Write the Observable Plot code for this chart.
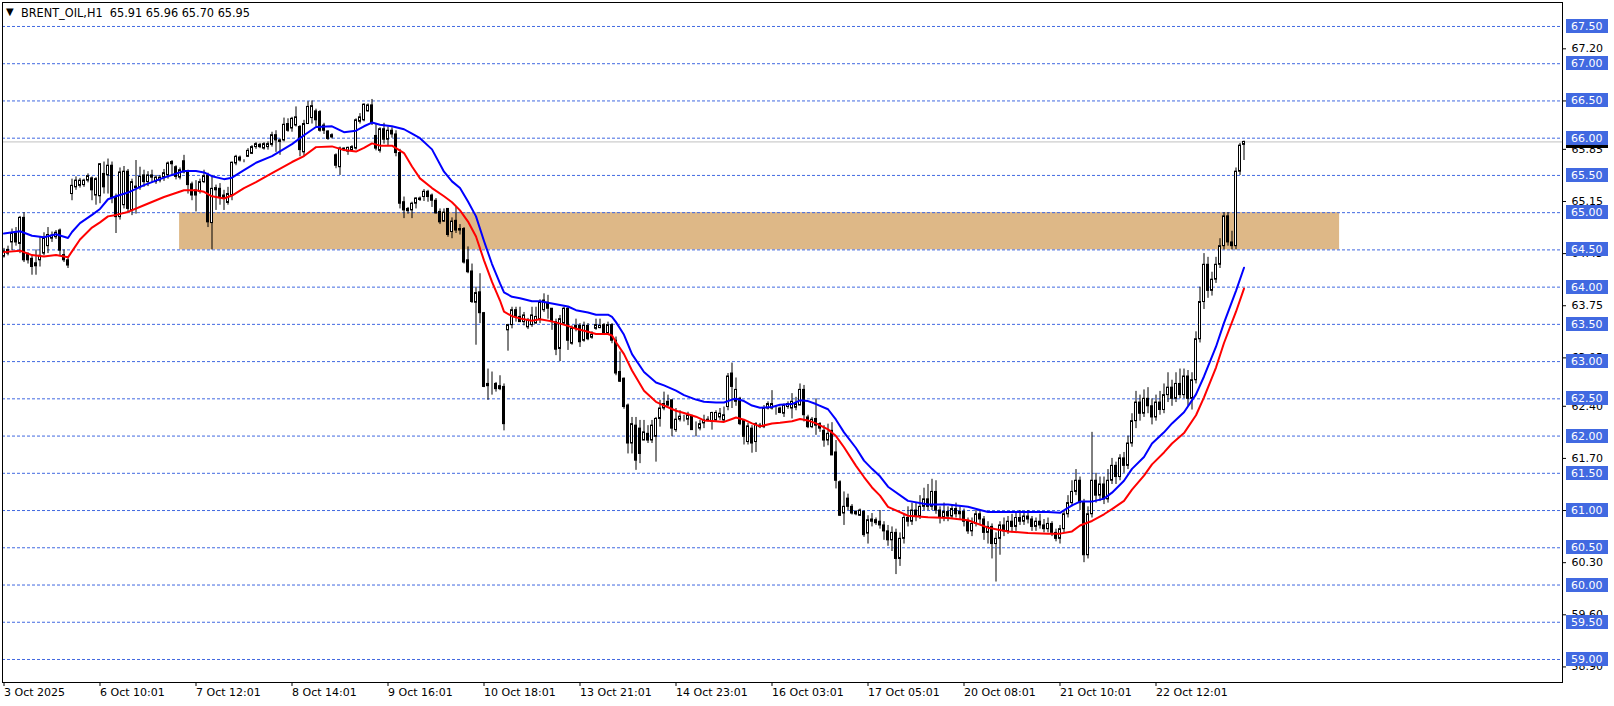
<!DOCTYPE html>
<html><head><meta charset="utf-8">
<script src="https://cdn.jsdelivr.net/npm/d3@7"></script>
<script src="https://cdn.jsdelivr.net/npm/@observablehq/plot@0.6"></script>
<style>html,body{margin:0;padding:0;background:#fff}svg{display:block}</style>
</head><body><div id="chart"></div>
<script>
const symbol = "BRENT_OIL,H1";
const open = [
64.41,64.50,64.60,64.72,64.58,64.93,64.43,64.38,64.32,64.36,
64.45,64.55,64.65,64.67,64.76,64.43,64.36,65.25,65.34,65.36,
65.37,65.43,65.46,65.23,65.22,65.52,65.50,65.63,65.20,64.94,
65.10,65.55,65.03,65.35,65.34,65.50,65.41,65.50,65.41,65.43,
65.47,65.50,65.68,65.61,65.47,65.69,65.54,65.38,65.30,65.28,
65.41,65.50,64.86,65.30,65.32,65.23,65.13,65.23,65.66,65.74,
65.69,65.75,65.79,65.88,65.91,65.86,65.88,65.91,66.04,65.97,
65.97,66.19,66.13,66.17,66.15,65.81,66.19,66.27,66.36,66.35,
66.17,66.09,66.04,65.77,65.61,65.86,65.82,65.84,65.86,66.22,
66.24,66.36,66.44,66.03,65.83,66.12,65.98,66.10,66.05,65.80,
65.14,65.05,65.03,65.12,65.19,65.21,65.28,65.23,65.16,65.01,
64.88,65.05,64.74,64.89,64.78,64.78,64.36,64.21,63.79,63.93,
63.65,62.70,62.70,62.70,62.67,62.66,63.42,63.49,63.69,63.60,
63.53,63.46,63.49,63.51,63.57,63.69,63.79,63.71,63.53,63.17,
63.51,63.71,63.24,63.48,63.48,63.28,63.48,63.32,63.44,63.45,
63.49,63.38,63.49,63.28,62.86,62.77,62.41,61.90,62.14,62.10,
61.94,62.03,61.94,61.99,62.23,62.37,62.46,62.48,62.08,62.22,
62.24,62.22,62.26,62.11,62.10,62.17,62.22,62.19,62.21,62.25,
62.21,62.39,62.84,62.46,62.50,62.21,61.92,62.10,61.92,62.14,
62.12,62.37,62.37,62.39,62.37,62.30,62.39,62.37,62.38,62.41,
62.62,62.25,62.12,62.23,62.16,62.07,61.94,62.07,61.78,61.38,
60.96,61.16,61.05,60.98,60.93,60.98,60.69,60.88,60.87,60.85,
60.80,60.72,60.60,60.70,60.35,60.62,60.90,60.85,61.00,60.92,
61.05,61.15,61.05,61.25,61.00,60.90,60.98,60.92,61.02,60.95,
60.98,60.85,60.72,60.82,60.95,60.88,60.70,60.78,60.55,60.62,
60.80,60.72,60.85,60.78,60.90,60.85,60.92,60.88,60.78,60.85,
60.80,60.75,60.82,60.70,60.62,60.75,60.95,61.10,61.25,61.40,
61.10,60.40,60.95,61.40,61.20,61.35,61.15,61.40,61.60,61.45,
61.70,61.60,61.90,62.20,62.45,62.30,62.50,62.40,62.25,62.45,
62.35,62.55,62.65,62.50,62.70,62.55,62.80,62.50,62.75,63.30,
63.80,64.30,63.95,64.10,64.30,64.55,64.95,64.60,64.55,65.55,
65.91];
const high = [
64.52,64.55,64.78,64.80,64.95,65.00,64.46,64.42,64.50,64.67,
64.73,64.80,64.74,64.76,64.78,64.50,64.40,65.45,65.48,65.46,
65.45,65.52,65.48,65.47,65.66,65.68,65.72,65.68,65.25,65.60,
65.62,65.58,65.45,65.70,65.61,65.57,65.55,65.57,65.50,65.50,
65.58,65.68,65.70,65.63,65.60,65.77,65.57,65.41,65.43,65.45,
65.57,65.53,65.50,65.37,65.39,65.30,65.34,65.68,65.77,65.76,
65.71,65.86,65.90,65.94,65.93,65.94,65.95,66.08,66.10,65.99,
66.27,66.26,66.28,66.42,66.17,66.24,66.49,66.50,66.39,66.37,
66.20,66.10,66.06,65.79,65.88,65.87,65.88,65.90,66.26,66.33,
66.46,66.46,66.52,66.19,66.14,66.20,66.15,66.14,66.10,65.85,
65.21,65.07,65.14,65.20,65.21,65.31,65.30,65.25,65.19,65.05,
65.05,65.05,64.93,65.07,64.84,64.80,64.54,64.31,64.00,64.18,
63.66,62.90,62.86,62.72,62.81,62.70,63.50,63.73,63.73,63.73,
63.66,63.58,63.73,63.73,63.83,63.91,63.89,63.71,63.57,63.62,
63.73,63.73,63.48,63.57,63.51,63.53,63.51,63.40,63.57,63.57,
63.51,63.53,63.51,63.33,63.13,62.78,62.43,62.25,62.25,62.21,
62.21,62.14,62.21,62.25,62.48,62.59,62.55,62.48,62.37,62.34,
62.28,62.32,62.28,62.19,62.21,62.28,62.26,62.32,62.34,62.37,
62.39,62.84,62.98,62.78,62.52,62.21,62.17,62.14,62.18,62.17,
62.41,62.46,62.61,62.41,62.39,62.43,62.46,62.57,62.52,62.70,
62.68,62.28,62.25,62.50,62.18,62.14,62.16,62.18,61.94,61.40,
61.25,61.22,61.08,61.00,61.02,61.00,60.93,60.96,60.90,61.00,
60.85,60.80,60.78,60.75,60.70,60.95,61.05,61.10,61.10,61.20,
61.30,61.35,61.42,61.40,61.05,61.10,61.05,61.08,61.10,61.05,
61.02,60.90,60.90,61.00,61.00,60.92,60.85,60.82,60.70,60.85,
60.90,60.92,60.95,60.98,61.00,60.98,61.00,60.92,60.90,60.95,
60.88,60.90,60.85,60.75,60.80,61.00,61.20,61.40,61.55,61.45,
61.15,61.05,62.05,61.50,61.45,61.45,61.55,61.70,61.65,61.75,
61.78,62.00,62.30,62.60,62.55,62.62,62.65,62.50,62.55,62.60,
62.70,62.85,62.75,62.85,62.90,62.90,62.88,62.85,63.40,64.00,
64.45,64.40,64.20,64.40,64.65,65.00,65.00,64.75,65.60,65.93,
65.96];
const low = [
64.39,64.42,64.49,64.55,64.45,64.33,64.31,64.16,64.16,64.27,
64.42,64.45,64.60,64.64,64.42,64.33,64.25,65.16,65.30,65.33,
65.34,65.40,65.16,65.10,65.12,65.25,65.25,65.12,64.72,64.90,
65.05,65.00,64.96,64.98,65.30,65.34,65.35,65.40,65.38,65.40,
65.42,65.45,65.50,65.44,65.44,65.52,65.25,65.16,65.01,65.25,
65.39,64.80,64.50,65.03,65.10,65.03,65.10,65.16,65.63,65.68,
65.67,65.74,65.78,65.85,65.86,65.84,65.84,65.88,65.81,65.77,
65.95,66.08,66.08,66.15,65.75,65.75,66.19,66.19,66.15,66.08,
66.05,65.97,65.99,65.59,65.50,65.82,65.77,65.82,65.84,66.19,
66.22,66.35,66.17,65.83,65.80,65.92,65.90,66.00,65.75,65.05,
64.92,64.98,64.92,65.05,65.15,65.15,65.14,65.07,64.98,64.84,
64.87,64.67,64.65,64.72,64.70,64.31,64.18,63.78,63.22,63.51,
62.65,62.48,62.55,62.59,62.61,62.07,63.14,63.44,63.53,63.53,
63.48,63.43,63.46,63.51,63.51,63.66,63.57,63.42,63.08,63.00,
63.49,63.15,63.22,63.40,63.19,63.26,63.28,63.30,63.42,63.44,
63.35,63.35,63.24,62.81,62.72,62.36,61.76,61.76,61.54,61.63,
61.94,61.90,61.90,61.65,62.12,62.34,62.39,61.99,62.05,62.19,
62.19,62.14,62.08,61.99,62.07,62.10,62.19,62.08,62.19,62.21,
62.19,62.34,62.37,62.40,62.14,61.88,61.88,61.77,61.78,62.10,
62.10,62.35,62.35,62.28,62.30,62.25,62.36,62.23,62.34,62.41,
62.19,62.10,62.10,62.01,62.05,61.85,61.87,61.74,61.29,60.92,
60.80,61.00,60.94,60.93,60.92,60.64,60.55,60.78,60.80,60.75,
60.60,60.52,60.45,60.14,60.25,60.55,60.78,60.80,60.85,60.88,
61.00,61.00,61.00,60.95,60.82,60.85,60.85,60.88,60.90,60.88,
60.78,60.68,60.65,60.78,60.80,60.60,60.55,60.35,60.04,60.40,
60.65,60.68,60.70,60.72,60.80,60.80,60.82,60.72,60.72,60.75,
60.70,60.70,60.65,60.58,60.55,60.70,60.90,61.05,61.20,61.00,
60.30,60.35,60.90,61.10,61.12,61.08,61.10,61.35,61.35,61.40,
61.50,61.55,61.85,62.10,62.20,62.25,62.30,62.15,62.20,62.28,
62.30,62.45,62.40,62.45,62.50,62.50,62.40,62.35,62.70,63.25,
63.70,63.85,63.88,64.05,64.25,64.50,64.55,64.50,64.50,65.50,
65.70];
const close = [
64.48,64.45,64.72,64.60,64.93,64.36,64.36,64.27,64.28,64.42,
64.65,64.70,64.69,64.73,64.49,64.36,64.29,65.36,65.43,65.43,
65.43,65.49,65.30,65.45,65.65,65.34,65.63,65.20,64.94,65.54,
65.55,65.05,65.41,65.33,65.48,65.41,65.50,65.47,65.47,65.47,
65.53,65.66,65.65,65.48,65.57,65.54,65.37,65.23,65.23,65.41,
65.49,64.87,65.32,65.33,65.21,65.19,65.25,65.67,65.75,65.70,
65.69,65.83,65.88,65.92,65.88,65.92,65.92,66.04,65.97,65.95,
66.18,66.10,66.26,66.28,65.84,66.19,66.42,66.43,66.24,66.10,
66.10,65.99,66.01,65.63,65.86,65.84,65.87,65.88,66.24,66.28,
66.45,66.44,66.20,65.86,66.12,65.98,66.10,66.05,65.80,65.12,
65.03,65.02,65.12,65.19,65.17,65.28,65.21,65.16,64.99,64.87,
65.00,64.70,64.88,64.76,64.76,64.33,64.20,63.80,63.92,63.65,
62.66,62.67,62.70,62.63,62.63,62.16,63.49,63.69,63.60,63.53,
63.62,63.55,63.62,63.60,63.80,63.82,63.71,63.53,63.16,63.57,
63.71,63.28,63.44,63.44,63.26,63.48,63.30,63.36,63.49,63.48,
63.37,63.49,63.28,62.84,62.73,62.39,61.90,62.16,61.67,61.76,
62.05,61.94,62.14,62.23,62.37,62.43,62.41,62.10,62.22,62.26,
62.24,62.28,62.08,62.11,62.16,62.21,62.21,62.31,62.31,62.30,
62.28,62.80,62.66,62.62,62.16,61.99,62.13,61.90,62.16,62.12,
62.37,62.43,62.43,62.39,62.31,62.41,62.43,62.46,62.43,62.62,
62.28,62.12,62.22,62.14,62.10,61.94,62.03,61.74,61.40,60.93,
61.05,61.05,60.96,60.95,61.00,60.67,60.87,60.85,60.83,60.80,
60.72,60.60,60.70,60.35,60.62,60.90,60.85,61.00,60.92,61.05,
61.15,61.05,61.25,61.00,60.90,60.98,60.92,61.02,60.95,60.98,
60.85,60.72,60.82,60.95,60.88,60.70,60.78,60.55,60.62,60.80,
60.72,60.85,60.78,60.90,60.85,60.92,60.88,60.78,60.85,60.80,
60.75,60.82,60.70,60.62,60.75,60.95,61.10,61.25,61.40,61.10,
60.40,60.95,61.40,61.20,61.35,61.15,61.40,61.60,61.45,61.70,
61.60,61.90,62.20,62.45,62.30,62.50,62.40,62.25,62.45,62.35,
62.55,62.65,62.50,62.70,62.55,62.80,62.50,62.75,63.30,63.80,
64.30,63.95,64.10,64.30,64.55,64.95,64.60,64.55,65.55,65.90,
65.95];

// moving averages (blue / red), sampled at bar indices
const maIdx = [0,4,7,10,13,16,17,19,22,24,26,28,31,35,40,45,48,50,52,55,57,60,63,67,72,75,78,82,85,88,90,92,94,97,100,102,104,107,110,112,114,116,118,120,122,124,125,127,129,132,134,137,141,143,146,148,151,152,153,155,157,160,163,165,168,170,173,175,178,180,182,183,185,187,189,192,194,197,199,201,203,206,208,210,213,215,217,219,221,226,231,236,241,246,251,256,261,264,267,269,272,275,277,280,282,285,287,290,292,295,298,300,303,305,308,310];
const maBlue = [64.72,64.75,64.69,64.67,64.71,64.66,64.74,64.86,64.97,65.05,65.18,65.22,65.27,65.37,65.47,65.56,65.56,65.54,65.49,65.45,65.47,65.57,65.67,65.76,65.92,66.04,66.15,66.16,66.08,66.10,66.16,66.21,66.18,66.16,66.12,66.06,66.00,65.85,65.55,65.42,65.33,65.15,64.95,64.62,64.31,64.05,63.93,63.87,63.85,63.81,63.81,63.78,63.74,63.69,63.66,63.63,63.63,63.60,63.53,63.36,63.10,62.86,62.72,62.68,62.61,62.55,62.49,62.46,62.45,62.45,62.49,62.50,62.47,62.41,62.38,62.39,62.42,62.43,62.48,62.47,62.43,62.36,62.22,62.05,61.84,61.67,61.56,61.46,61.32,61.13,61.08,61.08,61.05,60.98,60.98,60.98,60.98,60.97,61.07,61.12,61.12,61.16,61.24,61.40,61.56,61.72,61.90,62.05,62.17,62.32,62.56,62.80,63.20,63.52,63.95,64.26];
const maRed = [64.47,64.49,64.43,64.41,64.43,64.40,64.48,64.64,64.80,64.87,64.95,64.97,65.01,65.10,65.21,65.30,65.30,65.28,65.22,65.19,65.23,65.33,65.41,65.53,65.68,65.76,65.88,65.89,65.84,65.82,65.87,65.93,65.90,65.90,65.80,65.62,65.46,65.33,65.22,65.14,65.03,64.88,64.68,64.36,64.07,63.82,63.67,63.61,63.58,63.55,63.57,63.54,63.48,63.44,63.40,63.37,63.37,63.35,63.26,63.10,62.88,62.61,62.46,62.41,62.34,62.31,62.26,62.21,62.20,62.19,62.23,62.25,62.22,62.17,62.13,62.17,62.18,62.20,62.23,62.21,62.17,62.09,62.00,61.85,61.60,61.45,61.31,61.20,61.05,60.93,60.91,60.90,60.87,60.77,60.72,60.70,60.69,60.69,60.72,60.80,60.86,60.95,61.02,61.13,61.28,61.47,61.62,61.78,61.90,62.04,62.28,62.52,62.92,63.25,63.67,63.98];

const timeTickBars = [0,24,48,72,96,120,144,168,192,216,240,264,288];
const timeTickLabels = ["3 Oct 2025","6 Oct 10:01","7 Oct 12:01","8 Oct 14:01","9 Oct 16:01","10 Oct 18:01","13 Oct 21:01","14 Oct 23:01","16 Oct 03:01","17 Oct 05:01","20 Oct 08:01","21 Oct 10:01","22 Oct 12:01"];
const levelLines = [59.0,59.5,60.0,60.5,61.0,61.5,62.0,62.5,63.0,63.5,64.0,64.5,65.0,65.5,66.0,66.5,67.0,67.5];
const priceTicks = [58.90,59.60,60.30,61.00,61.70,62.40,63.05,63.75,64.45,65.15,65.85,66.50,67.20];
const zoneBars = [43.9, 333.9];
const zonePrices = [64.5, 65.0];

const n = open.length;
const last = n - 1;
const bars = open.map((o, i) => ({i, o, h: high[i], l: low[i], c: close[i]}));
const blueLine = maIdx.map((i, k) => ({i, v: maBlue[k]}));
const redLine = maIdx.map((i, k) => ({i, v: maRed[k]}));
const lastPrice = close[last];
const titleText = `${symbol}\u00a0\u00a0${open[last].toFixed(2)} ${high[last].toFixed(2)} ${low[last].toFixed(2)} ${close[last].toFixed(2)}`;

const FONT = "DejaVu Sans";

function priceBoxes(values, fill, textFill) {
  return (index, scales, channels, dimensions) => {
    const g = d3.create("svg:g").attr("font-family", FONT).attr("font-size", "11px").attr("text-anchor", "start");
    const x0 = dimensions.width - dimensions.marginRight + 4;
    for (const v of values) {
      const y = Math.round(scales.y(v));
      g.append("rect").attr("x", x0).attr("y", y - 7).attr("width", 42).attr("height", 14).attr("fill", fill);
      g.append("text").attr("x", x0 + 5).attr("y", y).attr("dy", "0.36em").attr("fill", textFill).text(v.toFixed(2));
    }
    return g.node();
  };
}

function titleMark(index, scales, channels, dimensions) {
  const g = d3.create("svg:g").attr("font-family", FONT).attr("text-anchor", "start").attr("fill", "#000");
  const x = dimensions.marginLeft;
  const y = dimensions.marginTop;
  g.append("text").attr("x", x + 4).attr("y", y + 13).attr("font-size", "10px").text("\u25bc");
  g.append("text").attr("x", x + 19).attr("y", y + 15).attr("font-size", "12.5px")
    .attr("textLength", 229).attr("lengthAdjust", "spacingAndGlyphs").text(titleText);
  return g.node();
}

const chart = Plot.plot({
  width: 1614,
  height: 706,
  marginLeft: 2,
  marginRight: 52,
  marginTop: 2,
  marginBottom: 24,
  style: {fontFamily: FONT, fontSize: "11px", background: "#fff", color: "#000"},
  x: {type: "linear", domain: [-0.375, 389.625], axis: null, label: null},
  y: {type: "linear", domain: [58.691, 67.822], axis: null, label: null},
  marks: [
    Plot.rect([0], {x1: () => zoneBars[0], x2: () => zoneBars[1], y1: () => zonePrices[0], y2: () => zonePrices[1], fill: "#deb887"}),
    Plot.ruleY([lastPrice], {stroke: "#c0c0c0", strokeWidth: 1}),
    Plot.ruleY(levelLines, {stroke: "#4169e1", strokeWidth: 1, strokeDasharray: "3,2"}),
    Plot.ruleX(bars, {x: "i", y1: "l", y2: "h", stroke: "#000", strokeWidth: 1}),
    Plot.rect(bars, {x1: d => d.i - 0.25, x2: d => d.i + 0.25, y1: "o", y2: "c",
      fill: d => d.c > d.o ? "#ffffff" : "#000000", stroke: "#000", strokeWidth: 1}),
    Plot.line(blueLine, {x: "i", y: "v", stroke: "#0000ff", strokeWidth: 2}),
    Plot.line(redLine, {x: "i", y: "v", stroke: "#ff0000", strokeWidth: 2}),
    Plot.axisX(timeTickBars, {anchor: "bottom", label: null, tickSize: 4, tickPadding: 2,
      tickFormat: d => timeTickLabels[timeTickBars.indexOf(d)], textAnchor: "start", fill: "#000"}),
    Plot.axisY(priceTicks, {anchor: "right", label: null, tickSize: 3, tickPadding: 6, tickFormat: d => d.toFixed(2), fill: "#000"}),
    priceBoxes([lastPrice], "#000000", "#ffffff"),
    priceBoxes(levelLines, "#4169e1", "#ffffff"),
    Plot.frame({stroke: "#000"}),
    titleMark
  ]
});
document.getElementById("chart").appendChild(chart);
</script>
</body></html>
